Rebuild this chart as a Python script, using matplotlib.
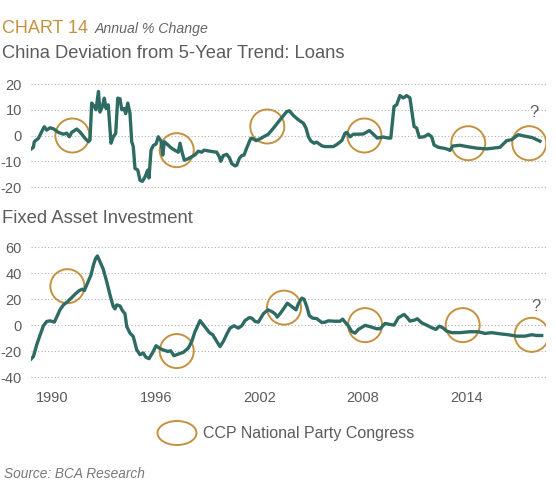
import matplotlib.pyplot as plt
from matplotlib.patches import Ellipse

# Loans: deviation from 5-year trend (annual % change)
loan_years = [1988.75, 1988.89, 1988.94, 1989.18, 1989.37, 1989.52, 1989.66, 1989.86,
              1990.05, 1990.34, 1990.63, 1990.82, 1990.97, 1991.11, 1991.40, 1991.59,
              1991.88, 1992.08, 1992.17, 1992.27, 1992.42, 1992.52, 1992.66, 1992.75,
              1992.89, 1993.00, 1993.10, 1993.23, 1993.39, 1993.52, 1993.66, 1993.78,
              1993.91, 1994.01, 1994.14, 1994.24, 1994.36, 1994.49, 1994.59, 1994.68,
              1994.78, 1994.94, 1995.07, 1995.21, 1995.36, 1995.52, 1995.59, 1995.71,
              1995.84, 1996.00, 1996.13, 1996.29, 1996.39, 1996.48, 1996.91, 1997.29,
              1997.39, 1997.52, 1997.64, 1997.87, 1998.26, 1998.45, 1998.65, 1998.78,
              1999.13, 1999.52, 1999.67, 1999.75, 1999.90, 2000.10, 2000.25, 2000.39,
              2000.58, 2000.68, 2000.83, 2000.97, 2001.10, 2001.26, 2001.49, 2001.64,
              2001.80, 2002.03, 2002.26, 2002.51, 2002.80, 2003.19, 2003.58, 2003.73,
              2003.96, 2004.25, 2004.54, 2004.70, 2004.83, 2004.97, 2005.16, 2005.32,
              2005.61, 2005.80, 2006.28, 2006.48, 2006.77, 2006.96, 2007.06, 2007.25,
              2007.44, 2007.73, 2008.02, 2008.37, 2008.60, 2008.83, 2009.18, 2009.47,
              2009.61, 2009.80, 2009.95, 2010.14, 2010.34, 2010.53, 2010.72, 2010.96,
              2011.11, 2011.26, 2011.54, 2011.79, 2011.98, 2012.12, 2012.37, 2012.66,
              2012.94, 2013.04, 2013.20, 2013.62, 2014.10, 2014.59, 2015.17, 2015.94,
              2016.33, 2016.62, 2017.00, 2017.49, 2017.81, 2018.26]
loan_vals = [-5.3, -4.5, -2.4, -1.1, 1.5, 3.4, 2.1, 3.0,
             2.6, 1.2, 0.5, 0.9, -0.5, 1.2, 2.5, 1.4,
             -1.1, -2.4, -1.8, 12.6, 11.3, 10.0, 17.1, 9.1,
             11.3, 14.5, 10.5, 11.9, -3.0, -0.5, 0.8, 14.5,
             14.3, 10.0, 10.5, 8.5, 12.6, 8.5, -2.4, -4.3,
             -12.8, -13.4, -17.4, -17.8, -16.1, -13.4, -16.5, -5.7,
             -3.9, -3.3, -0.5, -2.2, -7.6, -2.4, -5.0, -6.5,
             -3.0, -6.8, -9.6, -9.0, -7.5, -6.1, -6.5, -5.7,
             -6.1, -6.5, -8.3, -10.0, -7.8, -7.3, -8.6, -10.9,
             -11.8, -11.5, -8.9, -7.8, -7.6, -4.8, -1.1, -1.3,
             -2.0, -1.3, -0.4, 0.5, 2.8, 6.1, 9.3, 9.6,
             7.8, 6.1, 4.8, 2.8, -0.4, -2.1, -3.0, -2.6,
             -4.0, -4.3, -4.3, -3.5, -2.0, 0.9, 1.2, -0.5,
             0.5, 0.5, 0.6, 1.9, 0.5, -1.0, -0.6, -1.0,
             -1.0, 11.3, 11.9, 15.5, 14.6, 15.5, 14.6, 3.5,
             2.9, -0.7, -0.5, 0.5, -0.5, -3.7, -4.6, -4.9,
             -5.4, -5.8, -4.1, -3.8, -4.4, -4.9, -5.2, -4.6,
             -2.0, -1.6, 0.3, -0.4, -0.8, -2.2]

# Fixed asset investment: deviation from 5-year trend
fai_years = [1988.75, 1988.89, 1989.08, 1989.28, 1989.47, 1989.66, 1989.86, 1990.10,
             1990.24, 1990.43, 1990.63, 1990.88, 1991.11, 1991.30, 1991.54, 1991.73,
             1991.84, 1992.04, 1992.23, 1992.37, 1992.50, 1992.60, 1992.75, 1992.94,
             1993.14, 1993.33, 1993.52, 1993.62, 1993.72, 1993.91, 1994.05, 1994.20,
             1994.30, 1994.49, 1994.68, 1994.88, 1995.07, 1995.26, 1995.40, 1995.59,
             1995.79, 1996.00, 1996.19, 1996.39, 1996.68, 1996.85, 1997.04, 1997.29,
             1997.58, 1997.87, 1998.07, 1998.26, 1998.55, 1998.84, 1999.09, 1999.29,
             1999.52, 1999.71, 1999.90, 2000.13, 2000.29, 2000.52, 2000.77, 2000.97,
             2001.16, 2001.41, 2001.55, 2001.74, 2001.93, 2002.22, 2002.48, 2002.71,
             2002.90, 2003.03, 2003.23, 2003.42, 2003.61, 2003.87, 2004.12, 2004.25,
             2004.45, 2004.58, 2004.74, 2004.89, 2005.08, 2005.32, 2005.61, 2005.80,
             2005.99, 2006.38, 2006.67, 2006.82, 2006.96, 2007.15, 2007.34, 2007.54,
             2007.73, 2008.12, 2008.41, 2008.79, 2008.99, 2009.28, 2009.57, 2009.80,
             2010.05, 2010.38, 2010.57, 2010.72, 2010.96, 2011.15, 2011.40, 2011.69,
             2011.98, 2012.23, 2012.42, 2012.62, 2012.85, 2013.14, 2013.62, 2014.20,
             2014.68, 2015.07, 2015.46, 2015.94, 2016.42, 2016.91, 2017.39, 2017.78,
             2018.07, 2018.36]
fai_vals = [-26.2, -24.2, -15.2, -7.5, -0.5, 2.8, 3.3, 2.3,
            6.2, 11.8, 15.6, 18.2, 21.2, 23.8, 26.6, 27.7,
            26.6, 32.8, 38.7, 46.4, 51.5, 53.3, 48.9, 43.1,
            33.5, 23.3, 14.3, 12.5, 15.6, 14.8, 11.2, 8.7,
            -1.1, -6.2, -8.8, -19.0, -22.8, -21.5, -24.6, -25.9,
            -21.5, -15.9, -17.7, -19.0, -20.3, -19.8, -23.6, -22.3,
            -21.0, -17.7, -12.6, -5.0, 3.5, -1.5, -5.7, -7.5,
            -12.6, -16.5, -12.6, -6.2, -2.3, -0.5, -2.3, -0.5,
            3.5, 5.8, 5.4, 2.8, 2.3, 8.7, 11.8, 10.5,
            8.7, 6.2, 9.5, 13.1, 16.9, 14.3, 11.8, 16.4,
            20.8, 20.0, 14.3, 7.2, 5.4, 5.0, 2.0, 2.3,
            3.3, 3.0, 3.0, 4.6, 2.3, -0.5, -4.9, -6.2,
            -3.3, -0.2, -1.2, -2.8, -2.8, 1.3, 0.5, 0.0,
            5.7, 8.2, 5.7, 3.1, 3.8, 4.9, 1.8, 0.0,
            -2.0, -3.3, -0.8, -2.0, -4.6, -5.8, -5.8, -5.1,
            -5.1, -6.4, -5.8, -6.7, -7.4, -8.5, -8.5, -7.4,
            -8.0, -8.0]

# party congress circles
loan_circle_x = [1991.15, 1997.20, 2002.45, 2008.08, 2014.10, 2017.64]
loan_circle_y = [0, -5.7, 3.5, 0, -3, -3]
fai_circle_x = [1990.86, 1997.20, 2003.42, 2008.12, 2013.78, 2017.78]
fai_circle_y = [30, -20, 13.5, 0, 0, -7.5]

year_ticks = [1990, 1996, 2002, 2008, 2014]
loan_ticks = [20, 10, 0, -10, -20]
fai_ticks = [60, 40, 20, 0, -20, -40]

line_color = "#2e6b63"
gold = "#c4923f"
grey = "#5c5c5c"

plt.rcParams["font.family"] = ["Liberation Sans", "DejaVu Sans"]

fig = plt.figure(figsize=(5.56, 4.94), dpi=100)
W, H = 556, 494

def px_axes(x0, y0, x1, y1):
    return fig.add_axes([x0 / W, 1 - y1 / H, (x1 - x0) / W, (y1 - y0) / H])

ax1 = px_axes(31, 78.85, 546, 192.15)
ax2 = px_axes(31, 242.1, 546, 382.2)

for ax, xs, ys, cx, cy, ticks, ylim in [
    (ax1, loan_years, loan_vals, loan_circle_x, loan_circle_y, loan_ticks, (-22, 22)),
    (ax2, fai_years, fai_vals, fai_circle_x, fai_circle_y, fai_ticks, (-44, 64)),
]:
    ax.plot(xs, ys, color=line_color, linewidth=2.4, solid_joinstyle="round", zorder=3)
    ax.scatter(cx, cy, s=600, facecolors="none", edgecolors=gold, linewidths=1.4, zorder=2)
    ax.set_xlim(1988.75, 2018.61)
    ax.set_ylim(*ylim)
    ax.set_yticks(ticks)
    ax.set_yticklabels([str(t) for t in ticks])
    ax.grid(axis="y", linestyle=(0, (1, 2)), color="#b0b0b0", linewidth=0.8, zorder=1)
    ax.tick_params(axis="both", length=0, labelsize=10.5, labelcolor=grey, pad=6.5)
    for s in ax.spines.values():
        s.set_visible(False)

ax1.set_xticks([])
ax2.set_xticks(year_ticks)
ax2.set_xticklabels([str(y) for y in year_ticks])

ax1.text(2017.93, 9, "?", fontsize=12, color=grey, ha="center", va="center")
ax2.text(2018.03, 14, "?", fontsize=12, color=grey, ha="center", va="center")

fig.text(2 / W, 1 - 33 / H, "CHART 14", fontsize=13, color=gold, va="baseline")
fig.text(95 / W, 1 - 33 / H, "Annual % Change", fontsize=10.2, color="#666666",
         style="italic", va="baseline")
fig.text(2 / W, 1 - 58 / H, "China Deviation from 5-Year Trend: Loans", fontsize=13.2,
         color=grey, va="baseline")
fig.text(2 / W, 1 - 223 / H, "Fixed Asset Investment", fontsize=13.3, color=grey,
         va="baseline")

fig.add_artist(Ellipse((177 / W, 1 - 433 / H), 39 / W, 24 / H, transform=fig.transFigure,
                       facecolor="none", edgecolor=gold, linewidth=1.4))
fig.text(203 / W, 1 - 433 / H, "CCP National Party Congress", fontsize=11.5, color=grey,
         va="center")
fig.text(4 / W, 1 - 474 / H, "Source: BCA Research", fontsize=9.8, color="#777777",
         style="italic", va="center")

fig.savefig("out.png", dpi=100)
